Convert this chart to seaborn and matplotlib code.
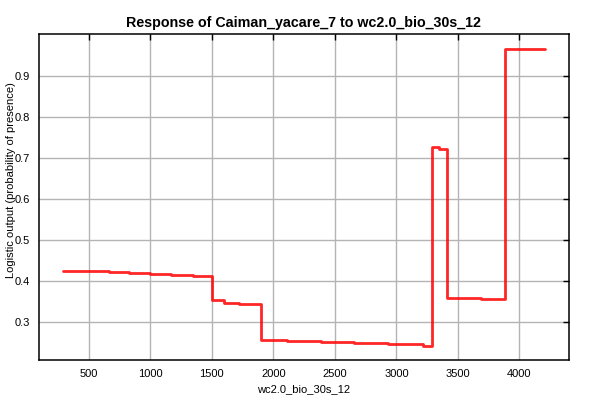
import matplotlib
matplotlib.use("Agg")
import matplotlib.pyplot as plt
import seaborn as sns
import pandas as pd

# step starts
bio12 = [290, 662, 831, 1002, 1165, 1349, 1504, 1599, 1721, 1897, 2115, 2386,
         2657, 2929, 3214, 3287, 3350, 3415, 3689, 3880, 4205]
logistic = [0.424, 0.422, 0.419, 0.418, 0.416, 0.413, 0.354, 0.3475, 0.344,
            0.258, 0.2555, 0.2525, 0.249, 0.2465, 0.2435, 0.726, 0.722, 0.358,
            0.356, 0.964, 0.964]
xticks = [500, 1000, 1500, 2000, 2500, 3000, 3500, 4000]
yticks = [0.3, 0.4, 0.5, 0.6, 0.7, 0.8, 0.9]

df = pd.DataFrame({"x": bio12, "y": logistic})

sns.set_style("white")
plt.rcParams["font.family"] = ["Liberation Sans", "DejaVu Sans"]
plt.rcParams["text.color"] = "black"
plt.rcParams["axes.labelcolor"] = "black"
plt.rcParams["xtick.color"] = "black"
plt.rcParams["ytick.color"] = "black"

fig = plt.figure(figsize=(6, 4), dpi=100)
ax = fig.add_axes([0.0645, 0.099, 0.8835, 0.815])

sns.lineplot(data=df, x="x", y="y", ax=ax, color="red", lw=2, alpha=0.85,
             drawstyle="steps-post", estimator=None, sort=False)

# 5% margin around the data like the original plot
xr = max(bio12) - min(bio12)
yr = max(logistic) - min(logistic)
ax.set_xlim(min(bio12) - 0.05 * xr, max(bio12) + 0.05 * xr)
ax.set_ylim(min(logistic) - 0.05 * yr, max(logistic) + 0.05 * yr)
ax.set_xticks(xticks)
ax.set_yticks(yticks)
ax.set_xticklabels([str(t) for t in xticks])
ax.set_yticklabels([str(t) for t in yticks])

ax.grid(True, color="#b4b4b4", lw=1)
ax.set_axisbelow(True)
ax.tick_params(direction="in", length=4, width=1, color="black",
               top=True, right=True, labelsize=8, pad=6)
for s in ax.spines.values():
    s.set_color("black")
    s.set_linewidth(1.1)

ax.set_title("Response of Caiman_yacare_7 to wc2.0_bio_30s_12",
             fontsize=10.3, fontweight="bold", pad=5)
ax.set_xlabel("wc2.0_bio_30s_12", fontsize=8)
ax.set_ylabel("Logistic output (probability of presence)", fontsize=8)
ax.yaxis.set_label_coords(-0.043, 0.553)

fig.savefig("out.png", dpi=100)
